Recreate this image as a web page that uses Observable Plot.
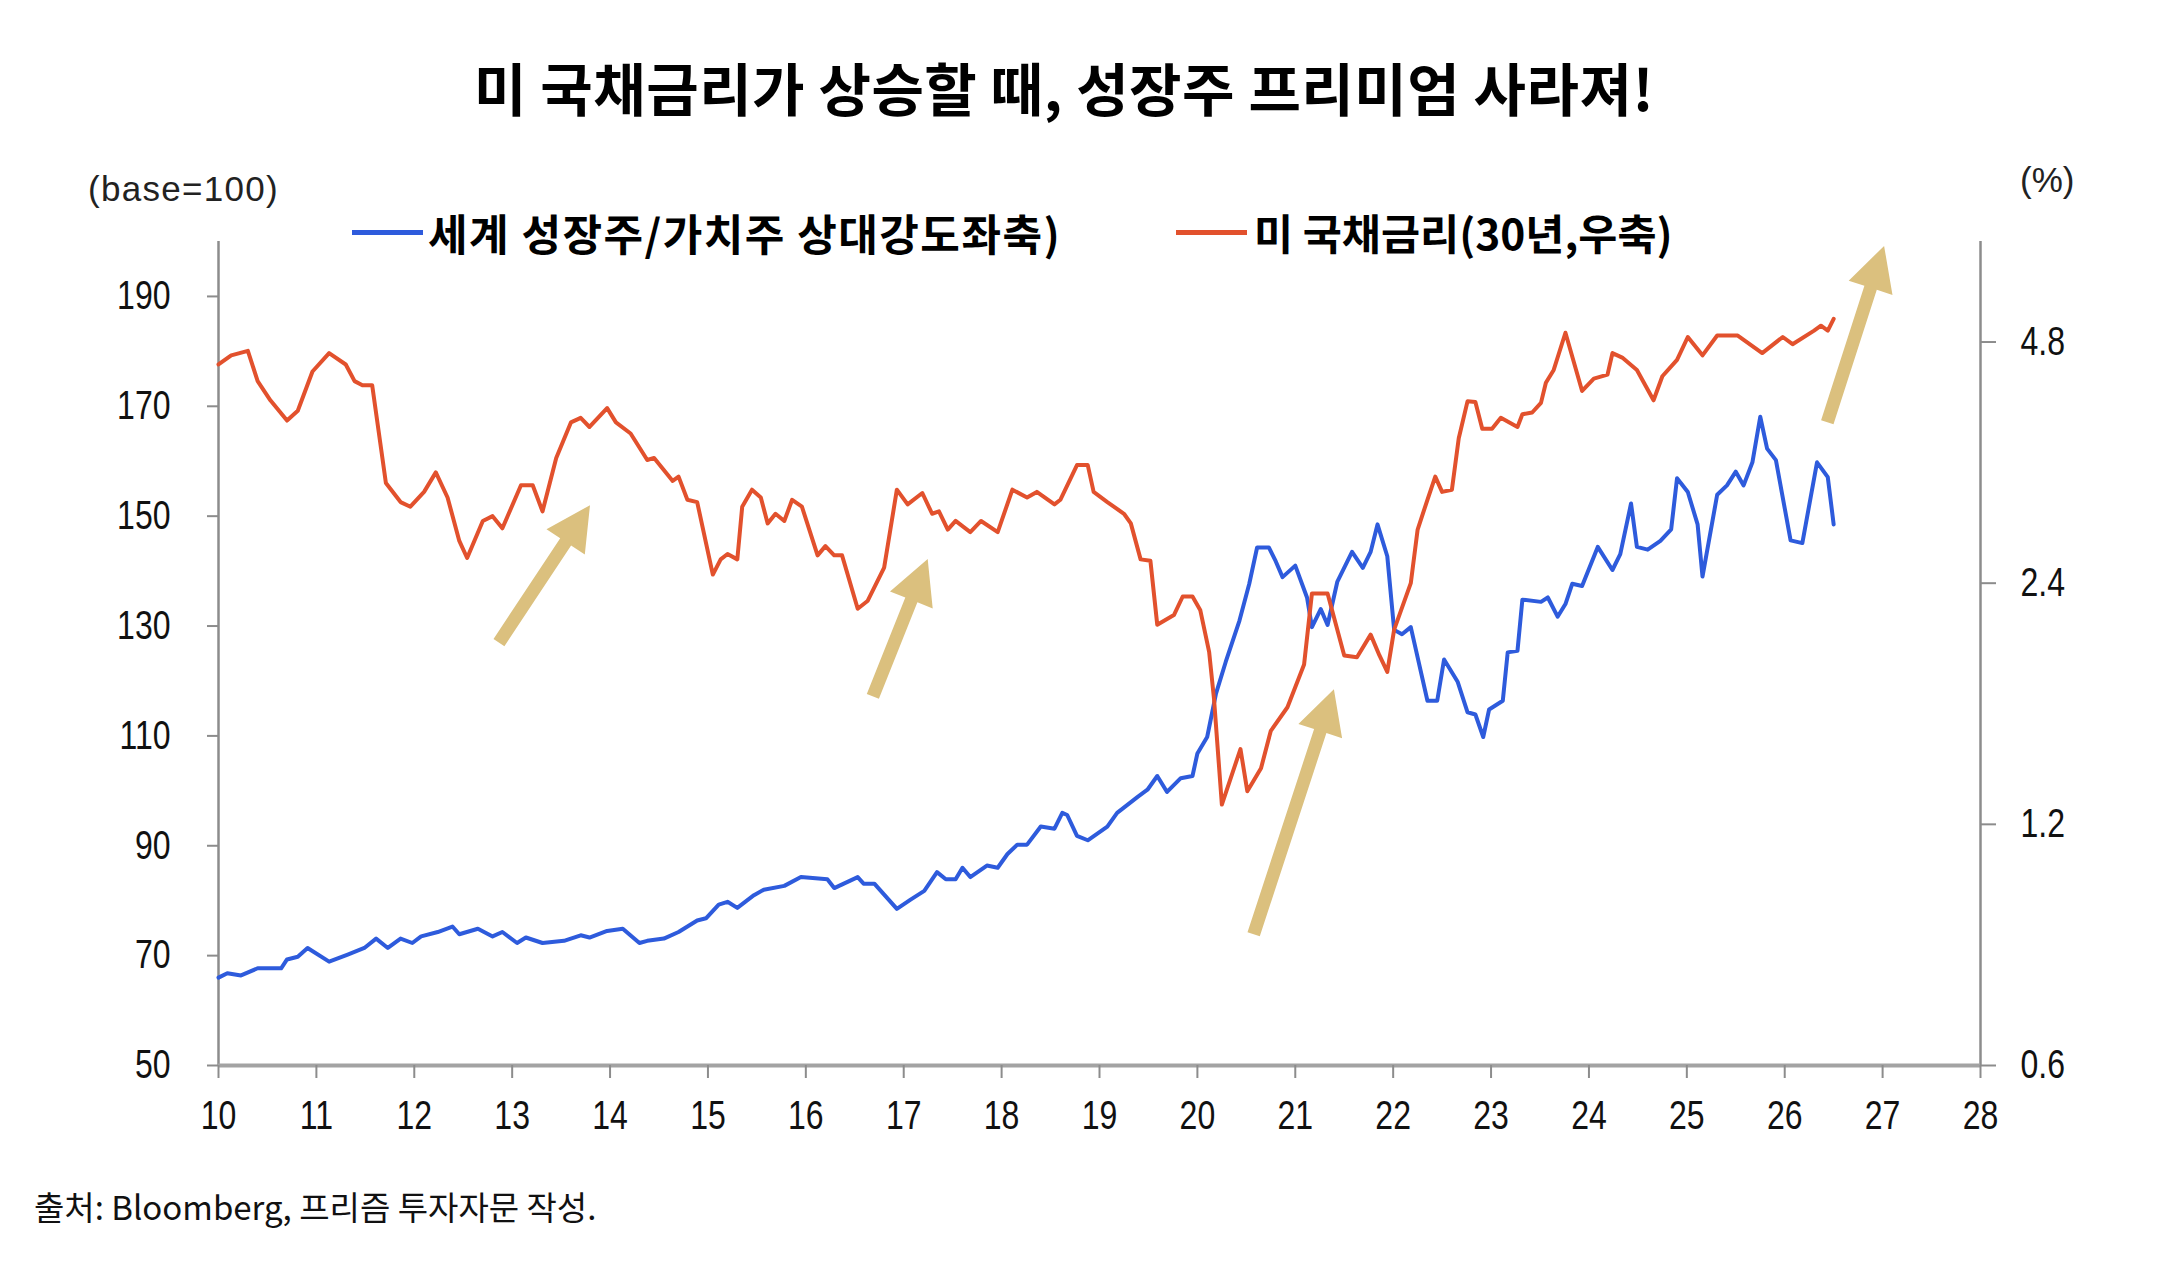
<!DOCTYPE html>
<html><head><meta charset="utf-8">
<script src="https://cdn.jsdelivr.net/npm/d3@7"></script>
<script src="https://cdn.jsdelivr.net/npm/@observablehq/plot@0.6"></script>
<style>
html,body{margin:0;padding:0;background:#fff;}
#wrap{position:relative;width:2160px;height:1278px;overflow:hidden;background:#fff;}
#chart{position:absolute;left:0;top:0;}
.t{position:absolute;white-space:nowrap;color:#000;line-height:1;}
.kr{font-family:'Noto Sans CJK KR','Noto Sans',sans-serif;}
.lat{font-family:'Liberation Sans',Arial,sans-serif;}
.sw{position:absolute;height:5px;}
</style></head><body>
<div id="wrap">
  <div id="chart"></div>
  <div class="t kr" style="left:0;width:2128px;top:58px;text-align:center;font-size:57px;font-weight:700;letter-spacing:0.5px;">미 국채금리가 상승할 때, 성장주 프리미엄 사라져!</div>
  <div class="t lat" style="left:88px;top:171px;font-size:35px;letter-spacing:1.3px;color:#222;">(base=100)</div>
  <div class="t lat" style="left:2020px;top:162px;font-size:35px;color:#222;">(%)</div>
  <div class="sw" style="left:352px;top:230px;width:71px;background:#2E5BDC;"></div>
  <div class="t kr" style="left:428px;top:211px;font-size:43px;font-weight:700;letter-spacing:1.5px;">세계 성장주/가치주 상대강도좌축)</div>
  <div class="sw" style="left:1176px;top:230px;width:71px;background:#E2512D;"></div>
  <div class="t kr" style="left:1254px;top:211px;font-size:42.5px;font-weight:700;">미 국채금리(30년,우축)</div>
  <div class="t kr" style="left:34px;top:1190px;font-size:33px;color:#111;">출처: Bloomberg, 프리즘 투자자문 작성.</div>
</div>
<script>
// ---- data (x = year label position on the axis, 10 = 2010) ----
const growthYears = [10.0,10.09,10.23,10.40,10.64,10.70,10.81,10.91,11.13,11.32,11.49,11.61,11.73,11.86,11.98,12.07,12.24,12.39,12.46,12.65,12.80,12.90,13.05,13.14,13.31,13.53,13.70,13.79,13.97,14.13,
14.30,14.38,14.55,14.70,14.89,14.98,15.11,15.20,15.30,15.47,15.57,15.78,15.95,16.22,16.29,16.53,16.59,16.70,16.93,17.07,17.21,17.34,17.43,17.53,17.60,17.68,17.85,17.96,18.06,18.16,18.26,
18.40,18.54,18.62,18.67,18.77,18.88,19.08,19.18,19.39,19.49,19.59,19.69,19.83,19.95,20.00,20.10,20.19,20.29,20.43,20.53,20.61,20.73,20.80,20.87,21.00,21.12,21.17,21.26,21.33,21.43,21.58,21.69,21.77,21.84,21.94,22.01,22.09,22.18,22.35,22.45,22.52,22.66,22.76,22.84,
22.92,22.98,23.12,23.17,23.27,23.32,23.51,23.58,23.68,23.76,23.83,23.93,24.09,24.24,24.32,24.43,24.49,24.60,24.73,24.84,24.90,25.01,25.11,25.16,25.31,25.41,25.50,25.58,25.67,25.75,25.82,25.91,26.06,26.18,26.33,26.44,26.50];
const growthValues = [66.0,66.8,66.4,67.7,67.7,69.3,69.8,71.4,68.9,70.2,71.4,73.1,71.4,73.1,72.3,73.5,74.3,75.3,73.9,74.9,73.5,74.3,72.3,73.3,72.3,72.7,73.7,73.3,74.5,74.9,
72.3,72.7,73.1,74.3,76.4,76.8,79.3,79.8,78.7,81.0,82.0,82.7,84.3,83.9,82.3,84.3,83.1,83.1,78.5,80.2,81.8,85.2,83.9,83.9,86.0,84.3,86.4,86.0,88.5,90.2,90.2,
93.5,93.1,96.0,95.6,91.8,91.0,93.5,96.0,98.9,100.2,102.7,99.8,102.3,102.7,106.8,109.8,117.7,123.5,131.0,137.7,144.3,144.3,141.8,138.9,141.0,135.2,129.8,133.1,130.2,138.1,143.5,140.6,143.5,148.5,142.7,129.3,128.5,129.8,116.4,116.4,123.9,119.8,114.3,113.9,
109.8,114.8,116.4,125.2,125.5,134.8,134.4,135.2,131.7,134.0,137.7,137.3,144.4,140.2,143.1,152.3,144.4,143.9,145.5,147.6,156.9,154.4,148.5,139.0,153.9,155.6,158.1,155.6,159.8,168.1,162.3,160.2,145.6,145.1,159.8,157.1,148.5];

const yieldYears = [10.0,10.13,10.30,10.40,10.53,10.70,10.81,10.96,11.13,11.30,11.39,11.47,11.57,11.71,11.86,11.96,12.10,12.22,12.34,12.46,12.54,12.70,12.80,12.90,13.09,13.21,13.31,13.45,13.60,13.70,13.79,13.97,14.06,14.21,
14.38,14.45,14.64,14.70,14.79,14.89,15.05,15.13,15.20,15.30,15.35,15.45,15.54,15.61,15.69,15.78,15.86,15.96,16.12,16.20,16.29,16.37,16.53,16.63,16.80,16.93,17.04,17.19,17.29,17.36,17.45,17.53,17.68,17.79,17.96,18.11,18.26,18.36,
18.54,18.60,18.77,18.88,18.94,19.08,19.25,19.32,19.42,19.52,19.59,19.76,19.85,19.95,20.03,20.12,20.17,20.25,20.44,20.51,20.65,20.75,20.92,21.09,21.17,21.26,21.33,21.50,21.63,21.77,21.86,21.94,22.01,22.18,22.25,22.35,22.43,22.50,22.60,22.67,22.76,22.84,
22.91,23.01,23.10,23.27,23.32,23.42,23.51,23.56,23.64,23.76,23.93,24.05,24.19,24.24,24.34,24.49,24.66,24.75,24.90,25.01,25.16,25.31,25.52,25.77,25.98,26.08,26.30,26.37,26.44,26.50];
const yieldValues = [4.50,4.62,4.68,4.29,4.06,3.83,3.94,4.41,4.65,4.50,4.29,4.24,4.24,3.20,3.03,2.99,3.12,3.30,3.07,2.71,2.58,2.87,2.91,2.81,3.18,3.18,2.95,3.44,3.81,3.86,3.76,3.97,3.81,3.69,
3.42,3.44,3.22,3.26,3.05,3.03,2.46,2.57,2.61,2.57,2.99,3.14,3.07,2.85,2.93,2.87,3.05,2.99,2.60,2.67,2.60,2.60,2.23,2.28,2.51,3.14,3.01,3.11,2.93,2.95,2.80,2.87,2.78,2.87,2.78,3.14,3.07,3.12,
3.01,3.05,3.37,3.37,3.12,3.03,2.93,2.85,2.57,2.56,2.13,2.19,2.31,2.31,2.22,1.97,1.72,1.27,1.49,1.32,1.41,1.57,1.68,1.90,2.33,2.33,2.33,1.95,1.94,2.07,1.95,1.86,2.10,2.40,2.80,3.05,3.26,3.12,3.14,3.64,4.05,4.04,
3.74,3.74,3.86,3.76,3.90,3.92,4.03,4.27,4.43,4.93,4.17,4.32,4.37,4.65,4.59,4.43,4.06,4.35,4.56,4.87,4.62,4.89,4.89,4.65,4.87,4.77,4.96,5.03,4.96,5.13];

const leftTicks = [50,70,90,110,130,150,170,190];
const rightTicks = [0.6,1.2,2.4,4.8];
const xTicks = [10,11,12,13,14,15,16,17,18,19,20,21,22,23,24,25,26,27,28];

// annotation arrows (tail -> head), in axis units (x year, left-axis value)
const arrowTails = [[12.87,126.9],[16.69,117.1],[20.58,73.8],[26.44,167.0]];
const arrowHeads = [[13.80,151.9],[17.25,142.1],[21.40,118.4],[27.02,199.1]];

const BLUE = "#2E5BDC", RED = "#E2512D", ARROW = "#DBC07E", AXIS = "#8c8c8c";

// right axis is a base-2 log scale sharing the plot frame with the left axis
const LEFT_MIN = 50, RIGHT_MIN = 0.6, UNITS_PER_DOUBLING = 43.9;
const toLeft = r => LEFT_MIN + Math.log2(r / RIGHT_MIN) * UNITS_PER_DOUBLING;
const fromLeft = v => RIGHT_MIN * Math.pow(2, (v - LEFT_MIN) / UNITS_PER_DOUBLING);

const growth = growthYears.map((x, i) => ({x, y: growthValues[i]}));
const yields = yieldYears.map((x, i) => ({x, y: toLeft(yieldValues[i])}));

const chart = Plot.plot({
  width: 2160, height: 1278,
  marginLeft: 218, marginRight: 180, marginTop: 241, marginBottom: 213,
  x: {domain: [10, 28], label: null},
  y: {domain: [50, 200], label: null},
  style: {fontFamily: "'Liberation Sans',Arial,sans-serif", fontSize: "40px", background: "transparent", color: "#111"},
  marks: [
    Plot.ruleX([10, 28], {stroke: AXIS, strokeWidth: 2.5}),
    Plot.ruleY([50], {stroke: "#a3a3a3", strokeWidth: 4}),
    Plot.axisY({anchor: "left", ticks: leftTicks, tickSize: 11, tickPadding: 37, stroke: AXIS, fill: "#111", strokeWidth: 2, label: null}),
    Plot.axisY({anchor: "right", ticks: rightTicks.map(toLeft), tickFormat: d => fromLeft(d).toFixed(1), tickSize: 15, tickPadding: 25, stroke: AXIS, fill: "#111", strokeWidth: 2, label: null}),
    Plot.axisX({anchor: "bottom", ticks: xTicks, tickFormat: d => String(d), tickSize: 13, tickPadding: 22, stroke: AXIS, fill: "#111", strokeWidth: 2, label: null}),
    Plot.line(growth, {x: "x", y: "y", stroke: BLUE, strokeWidth: 4, strokeLinejoin: "round"}),
    Plot.line(yields, {x: "x", y: "y", stroke: RED, strokeWidth: 4, strokeLinejoin: "round"})
  ]
});
document.getElementById("chart").appendChild(chart);

// condense the tick labels horizontally around their text anchor (positions untouched)
chart.querySelectorAll("text").forEach(el => {
  let b;
  try { b = el.getBBox(); } catch (e) { return; }
  if (!b || !b.width) return;
  const anchor = el.getAttribute("text-anchor") || (el.closest("[text-anchor]") ? el.closest("[text-anchor]").getAttribute("text-anchor") : "start");
  const ax = anchor === "end" ? b.x + b.width : anchor === "middle" ? b.x + b.width / 2 : b.x;
  const tr = el.getAttribute("transform") || "";
  el.setAttribute("transform", (tr + ` translate(${ax.toFixed(2)},0) scale(0.8,1) translate(${(-ax).toFixed(2)},0)`).trim());
});

// arrows placed through the plot's own scales
const xs = chart.scale("x"), ys = chart.scale("y");
const fx = xs.apply ? v => xs.apply(v) : d3.scaleLinear(xs.domain, xs.range);
const fy = ys.apply ? v => ys.apply(v) : d3.scaleLinear(ys.domain, ys.range);
const svg = d3.select(chart);
arrowTails.forEach((t, i) => {
  const h = arrowHeads[i];
  const x0 = fx(t[0]), y0 = fy(t[1]), x1 = fx(h[0]), y1 = fy(h[1]);
  const dx = x1 - x0, dy = y1 - y0, L = Math.hypot(dx, dy);
  const ux = dx / L, uy = dy / L, px = -uy, py = ux;
  const hl = 44, hw = 23, sw = 6.5;
  const bx = x1 - ux * hl, by = y1 - uy * hl;
  const pts = [[x0 + px * sw, y0 + py * sw], [bx + px * sw, by + py * sw], [bx + px * hw, by + py * hw], [x1, y1],
               [bx - px * hw, by - py * hw], [bx - px * sw, by - py * sw], [x0 - px * sw, y0 - py * sw]];
  svg.append("path").attr("d", "M" + pts.map(p => p[0].toFixed(1) + "," + p[1].toFixed(1)).join("L") + "Z").attr("fill", ARROW);
});
</script>
</body></html>
